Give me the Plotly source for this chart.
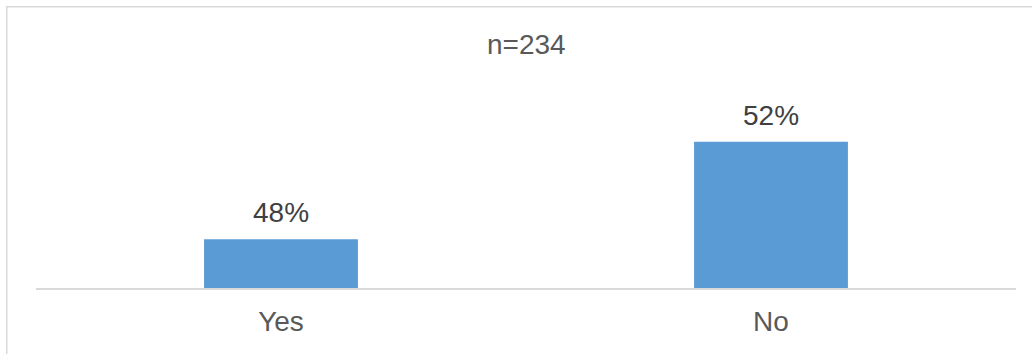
import plotly.graph_objects as go

# Survey answers and their shares
categories = ["Yes", "No"]
shares = [0.48, 0.52]
sample_label = "n=234"

BAR_COLOR = "#5b9bd5"
FONT = "Liberation Sans, Arial, sans-serif"

W, H = 1032, 354
ML, MR, MT, MB = 36, 16, 93, 66
plot_w = W - ML - MR
plot_h = H - MT - MB


def px_to_paper_x(px):
    return (px - ML) / plot_w


def px_to_paper_y(py):
    return (H - MB - py) / plot_h


fig = go.Figure()
fig.add_trace(
    go.Bar(
        x=categories,
        y=shares,
        marker=dict(color=BAR_COLOR, line=dict(width=0)),
        width=0.314,
        hoverinfo="skip",
    )
)

# Value labels above each bar
for cat, val in zip(categories, shares):
    fig.add_annotation(
        x=cat,
        y=val,
        xref="x",
        yref="y",
        text=f"{val:.0%}",
        showarrow=False,
        yanchor="bottom",
        yshift=9,
        font=dict(family=FONT, size=28, color="#404040"),
    )

# Sample size caption
fig.add_annotation(
    x=0.5,
    y=1,
    xref="paper",
    yref="paper",
    text=sample_label,
    showarrow=False,
    yanchor="bottom",
    yshift=31,
    font=dict(family=FONT, size=28, color="#595959"),
)

# Chart-area frame
fig.add_shape(
    type="rect",
    xref="paper",
    yref="paper",
    x0=px_to_paper_x(6.75),
    x1=px_to_paper_x(W + 20),
    y0=px_to_paper_y(H + 20),
    y1=px_to_paper_y(6.75),
    line=dict(color="#d9d9d9", width=1.5),
    fillcolor="rgba(0,0,0,0)",
    layer="below",
)

fig.update_layout(
    width=W,
    height=H,
    margin=dict(l=ML, r=MR, t=MT, b=MB),
    paper_bgcolor="white",
    plot_bgcolor="white",
    showlegend=False,
    xaxis=dict(
        type="category",
        showline=True,
        linecolor="#d9d9d9",
        linewidth=1.5,
        ticks="",
        showgrid=False,
        tickfont=dict(family=FONT, size=28, color="#595959"),
        ticklabelstandoff=8,
    ),
    yaxis=dict(
        range=[0.46, 0.54],
        visible=False,
        showgrid=False,
        zeroline=False,
        fixedrange=True,
    ),
)

fig.write_html("out.html")
